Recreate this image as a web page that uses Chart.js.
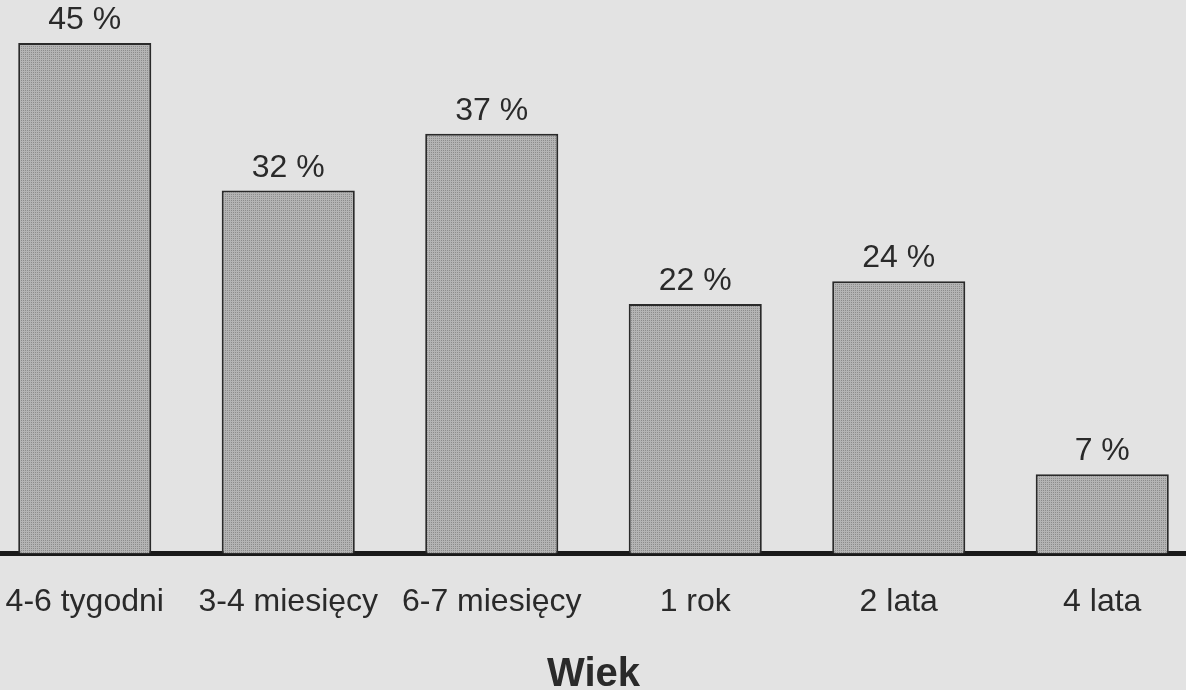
<!DOCTYPE html>
<html>
<head>
<meta charset="utf-8">
<script src="https://cdn.jsdelivr.net/npm/chart.js@4/dist/chart.umd.min.js"></script>
<style>
  html, body { margin: 0; padding: 0; background: #e3e3e3; overflow: hidden; height: 690px; }
  #wrap { position: absolute; left: -17px; top: 0; width: 1221px; height: 701px; }
</style>
</head>
<body>
<div id="wrap"><canvas id="chart"></canvas></div>
<script>
const categories = ['4-6 tygodni', '3-4 miesięcy', '6-7 miesięcy', '1 rok', '2 lata', '4 lata'];
const percents = [45, 32, 37, 22, 24, 7];

// stippled grey fill like the printed bars
function stipple() {
  const c = document.createElement('canvas');
  c.width = 4; c.height = 4;
  const g = c.getContext('2d');
  g.fillStyle = '#b4b4b4';
  g.fillRect(0, 0, 4, 4);
  g.fillStyle = '#8c8c8c';
  g.fillRect(0, 0, 1, 1);
  g.fillRect(2, 2, 1, 1);
  g.fillRect(2, 0, 1, 1);
  g.fillRect(0, 2, 1, 1);
  return g.createPattern(c, 'repeat');
}

const valueLabels = {
  id: 'valueLabels',
  afterDatasetsDraw(chart) {
    const ctx = chart.ctx;
    const meta = chart.getDatasetMeta(0);
    ctx.save();
    ctx.font = '32px "Liberation Sans", Arial, sans-serif';
    ctx.fillStyle = '#2a2a2a';
    ctx.textAlign = 'center';
    ctx.textBaseline = 'alphabetic';
    meta.data.forEach((bar, i) => {
      ctx.fillText(percents[i] + ' %', bar.x, bar.y - 14);
    });
    ctx.restore();
  }
};

new Chart(document.getElementById('chart'), {
  type: 'bar',
  data: {
    labels: categories,
    datasets: [{
      data: percents,
      backgroundColor: stipple(),
      borderColor: '#2a2a2a',
      borderWidth: 2,
      borderSkipped: 'bottom',
      barPercentage: 0.654,
      categoryPercentage: 1
    }]
  },
  options: {
    responsive: true,
    maintainAspectRatio: false,
    animation: false,
    layout: { padding: { top: 9, left: 0, right: 0, bottom: 0 } },
    plugins: {
      legend: { display: false },
      tooltip: { enabled: false },
      title: {
        display: true,
        text: 'Wiek',
        position: 'bottom',
        color: '#2a2a2a',
        font: { family: '"Liberation Sans", Arial, sans-serif', size: 40, weight: 'bold' },
        padding: { top: 9, bottom: 2 }
      }
    },
    scales: {
      x: {
        grid: { display: false },
        border: { display: true, color: '#1a1a1a', width: 5 },
        ticks: {
          color: '#2a2a2a',
          padding: 21,
          maxRotation: 0,
          autoSkip: false,
          font: { family: '"Liberation Sans", Arial, sans-serif', size: 32 }
        }
      },
      y: {
        display: false,
        min: 0,
        max: 48
      }
    }
  },
  plugins: [valueLabels]
});
</script>
</body>
</html>
